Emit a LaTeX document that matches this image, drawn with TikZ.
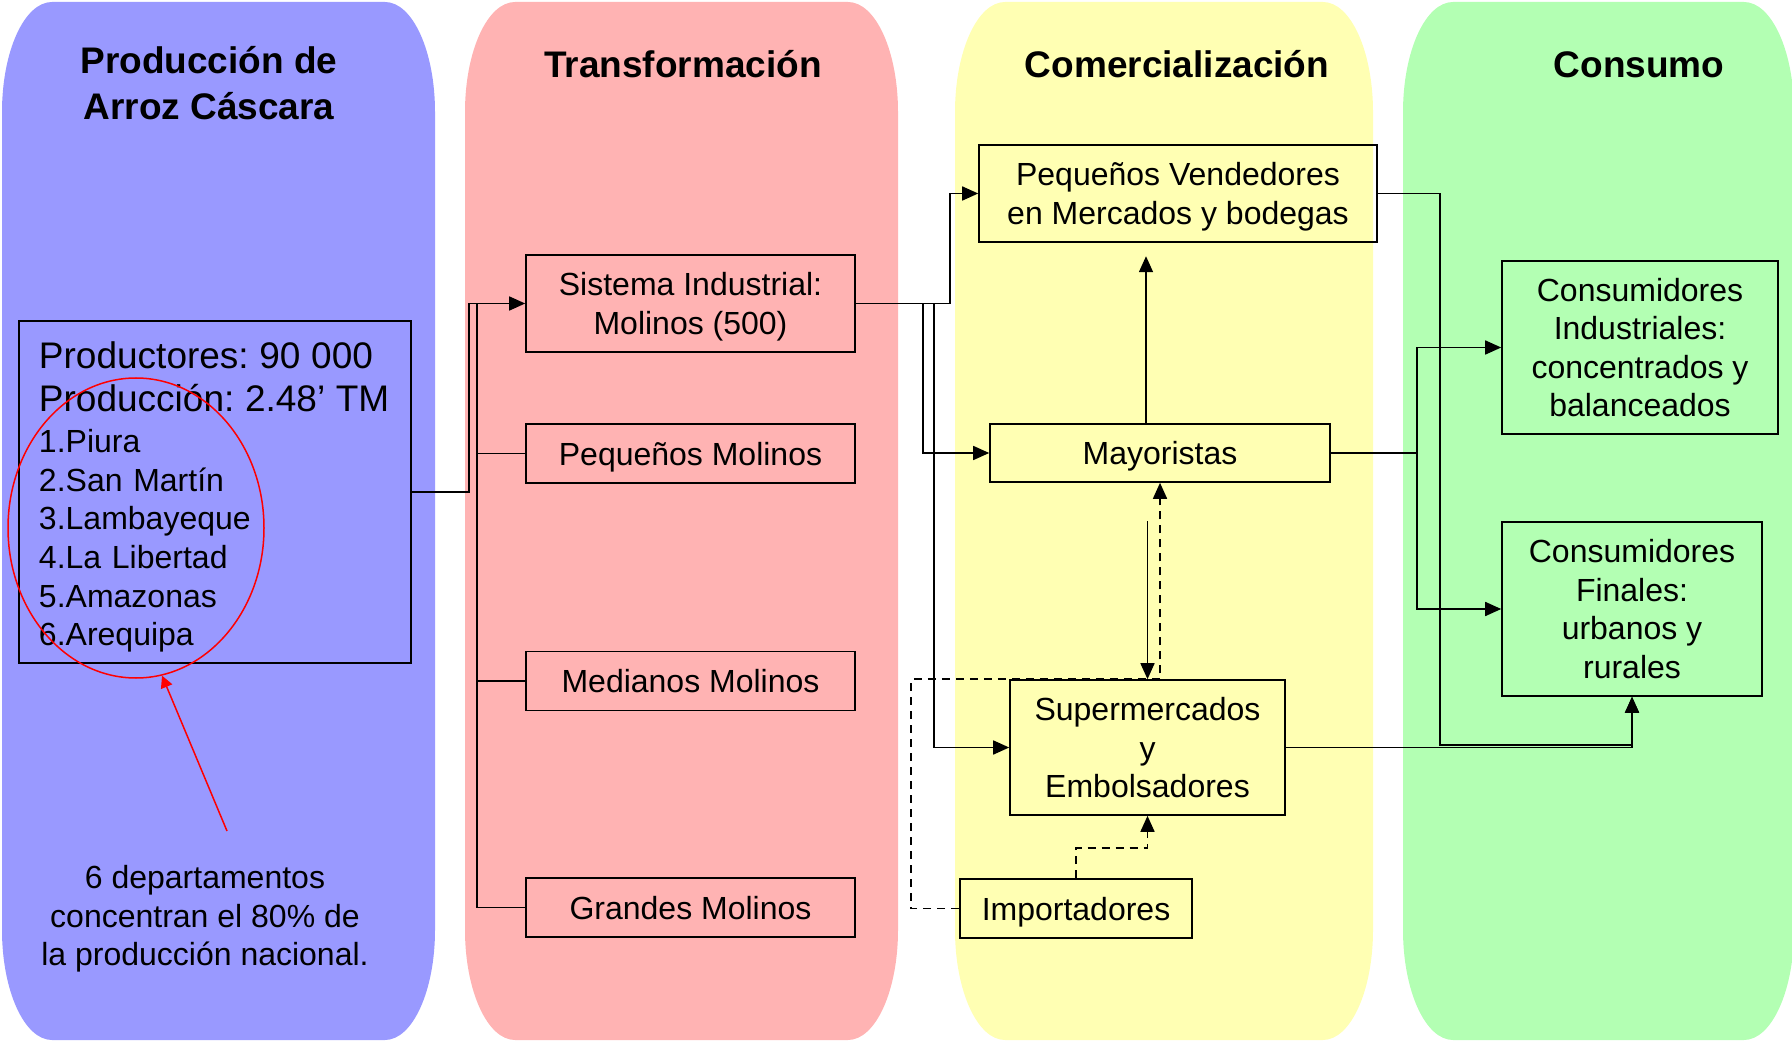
\documentclass[tikz,border=0pt]{standalone}
\usepackage{fontspec}
\setmainfont{Liberation Sans}
\frenchspacing
\usetikzlibrary{arrows.meta,shapes.geometric}

\definecolor{laneblue}{RGB}{153,153,255}
\definecolor{lanered}{RGB}{255,179,179}
\definecolor{laneyellow}{RGB}{255,255,179}
\definecolor{lanegreen}{RGB}{179,255,179}

\tikzset{
  listbox/.style={draw, line width=0.8pt, inner sep=2pt,
    font=\fontsize{16}{19.3}\selectfont},
  box/.style={listbox, align=center, text depth=0pt},
  head/.style={font=\fontsize{18.5}{23}\selectfont\bfseries, anchor=base},
  link/.style={line width=0.8pt},
  arr/.style={link, -{Triangle[length=8pt,width=7pt]}},
  darr/.style={arr, dash pattern=on 4pt off 3pt},
  redarr/.style={red, line width=0.75pt, -{Triangle[length=6pt,width=6pt]}},
}

\begin{document}
\begin{tikzpicture}[x=0.5pt,y=-0.5pt]
  \useasboundingbox (0,0) rectangle (1792,1042);

  % columns
  \begin{scope}[x radius=50, y radius=110]
    \fill[laneblue] (2,112) arc[start angle=180,end angle=270] -- (385,2) arc[start angle=270,end angle=360]
      -- (435,930) arc[start angle=0,end angle=90] -- (52,1040) arc[start angle=90,end angle=180] -- cycle;
    \fill[lanered] (465,112) arc[start angle=180,end angle=270] -- (848,2) arc[start angle=270,end angle=360]
      -- (898,930) arc[start angle=0,end angle=90] -- (515,1040) arc[start angle=90,end angle=180] -- cycle;
    \fill[laneyellow] (955,112) arc[start angle=180,end angle=270] -- (1323,2) arc[start angle=270,end angle=360]
      -- (1373,930) arc[start angle=0,end angle=90] -- (1005,1040) arc[start angle=90,end angle=180] -- cycle;
    \fill[lanegreen] (1403,112) arc[start angle=180,end angle=270] -- (1744,2) arc[start angle=270,end angle=360]
      -- (1794,930) arc[start angle=0,end angle=90] -- (1453,1040) arc[start angle=90,end angle=180] -- cycle;
  \end{scope}

  % headings
  \node[head] (h1a) at (209,74)   {Producción de};
  \node[head] (h1b) at (209,120)  {Arroz Cáscara};
  \node[head] (h2)  at (683,78)   {Transformación};
  \node[head] (h3)  at (1177,78)  {Comercialización};
  \node[head] (h4)  at (1639,78)  {Consumo};

  % boxes
  \node[listbox, align=left, text width=176pt, inner xsep=10pt, minimum height=171pt] (prod) at (215,492)
    {{\fontsize{18.5}{21.5}\selectfont Productores: 90 000\\[2.3pt] Producción: 2.48’ TM}\\[1.3pt]
     1.Piura\\2.San Martín\\3.Lambayeque\\4.La Libertad\\5.Amazonas\\6.Arequipa\vspace*{-5pt}};

  \node[box, minimum width=164.5pt, minimum height=48.5pt] (sis)  at (690.5,303.5) {Sistema Industrial:\\Molinos (500)};
  \node[box, minimum width=164.5pt, minimum height=29.5pt] (pmol) at (690.5,453.5) {Pequeños Molinos};
  \node[box, minimum width=164.5pt, minimum height=29.5pt] (mmol) at (690.5,681)   {Medianos Molinos};
  \node[box, minimum width=164.5pt, minimum height=29.5pt] (gmol) at (690.5,907.5) {Grandes Molinos};

  \node[box, minimum width=199pt, minimum height=48.5pt]   (ven) at (1178,193.5)  {Pequeños Vendedores\\en Mercados y bodegas};
  \node[box, minimum width=170pt, minimum height=29pt]     (may) at (1160,453)    {Mayoristas};
  \node[box, minimum width=137.5pt, minimum height=67.5pt] (sup) at (1147.5,747.5) {Supermercados\\y\\Embolsadores};
  \node[box, minimum width=116pt, minimum height=29.5pt]   (imp) at (1076,908.5)  {Importadores};

  \node[box, minimum width=138pt, minimum height=86.5pt] (ind) at (1640,347.5) {Consumidores\\Industriales:\\concentrados y\\balanceados};
  \node[box, minimum width=130pt, minimum height=87pt]   (fin) at (1632,609)   {Consumidores\\Finales:\\urbanos y\\rurales};

  % note
  \node[draw=red, line width=0.75pt, ellipse, minimum width=128pt, minimum height=150pt, inner sep=0pt] (ring) at (136,528) {};
  \node[font=\fontsize{16}{19.2}\selectfont, align=center] (note) at (205,919)
    {6 departamentos\\concentran el 80\% de\\la producción nacional.};
  \coordinate (tail) at (227,831);
  \draw[redarr] (tail) -- (ring.-80);

  % connectors
  \draw[arr] (prod.east) -- ++(57,0) |- (sis.west);
  \draw[link] ([xshift=-24pt]sis.west) |- (pmol.west)
              ([xshift=-24pt]sis.west) |- (mmol.west)
              ([xshift=-24pt]sis.west) |- (gmol.west);

  \draw[arr] (sis.east) -- ++(94,0) |- (ven.west);
  \draw[arr] ([xshift=33.5pt]sis.east) |- (may.west);
  \draw[arr] ([xshift=39pt]sis.east) |- (sup.west);

  \draw[arr] ([xshift=-7pt]may.north) -- ++(0,-167);
  \draw[arr] (sup.north) ++(0,-158) -- (sup.north);
  \draw[darr] (imp.west) -- ++(-48,0) |- (sup.north -| may.south) -- (may.south);
  \draw[darr] (imp.north) |- ([yshift=-16pt]sup.south) -- (sup.south);

  \draw[arr] (ven.east) -- ++(62,0) |- ([yshift=-24pt]fin.south) -- (fin.south);
  \draw[arr] (sup.east) -| (fin.south);
  \draw[arr] (may.east) -- ++(86,0) |- (ind.west);
  \draw[arr] (may.east) ++(86,0) |- (fin.west);

\end{tikzpicture}
\end{document}
